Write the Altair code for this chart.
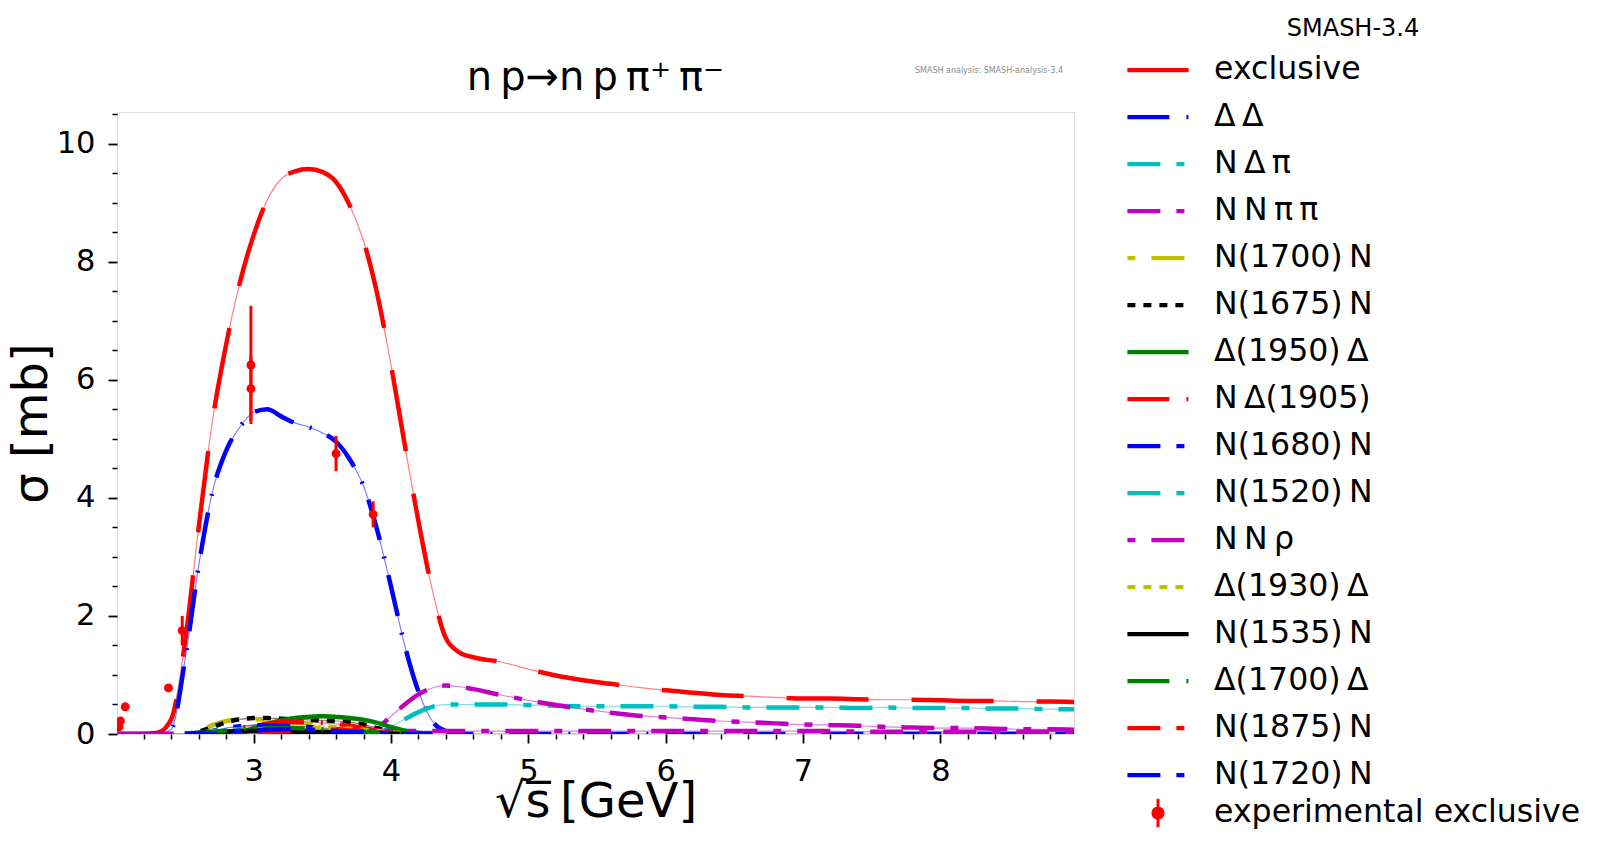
import altair as alt
import pandas as pd

F = "DejaVu Sans"

# ---- main curves on a common sqrt(s) grid [GeV] ----
X = [2.0, 2.1, 2.2, 2.3, 2.4, 2.5, 2.6, 2.7, 2.8, 2.9, 3.0, 3.1, 3.2, 3.3, 3.4, 3.5, 3.6, 3.7, 3.8,
     3.9, 4.0, 4.1, 4.2, 4.3, 4.4, 4.5, 4.6, 4.8, 5.0, 5.2, 5.4, 5.6, 5.8, 6.0, 6.2, 6.4, 6.6, 6.8,
     7.0, 7.2, 7.4, 7.6, 7.8, 8.0, 8.2, 8.4, 8.6, 8.8, 9.0]

EXCLUSIVE = [0, 0, 0, 0.02, 0.25, 1.55, 3.5, 5.3, 6.6, 7.65, 8.45, 9.05, 9.4, 9.53, 9.57, 9.52, 9.35,
             8.95, 8.35, 7.45, 6.25, 4.9, 3.6, 2.45, 1.62, 1.38, 1.3,
             1.22, 1.1, 0.99, 0.91, 0.85, 0.79, 0.74, 0.7, 0.66, 0.64, 0.62, 0.6, 0.6, 0.59, 0.58,
             0.58, 0.57, 0.56, 0.56, 0.55, 0.55, 0.54]
DELTA_DELTA = [0, 0, 0, 0, 0.08, 1.25, 2.85, 4.1, 4.8, 5.2, 5.45, 5.5, 5.38, 5.27, 5.2, 5.1, 4.95,
               4.65, 4.2, 3.45, 2.5, 1.5, 0.72, 0.22, 0.05, 0.01, 0,
               0, 0, 0, 0, 0, 0, 0, 0, 0, 0, 0, 0, 0, 0, 0, 0, 0, 0, 0, 0, 0, 0]
N_DELTA_PI = [0, 0, 0, 0, 0, 0, 0, 0, 0, 0, 0, 0, 0, 0, 0, 0, 0, 0, 0, 0,
              0.12, 0.25, 0.37, 0.46, 0.5, 0.5, 0.5,
              0.5, 0.49, 0.48, 0.47, 0.47, 0.47, 0.47, 0.46, 0.46, 0.45, 0.45, 0.45, 0.45, 0.44,
              0.45, 0.44, 0.44, 0.44, 0.43, 0.43, 0.42, 0.42]
NN_PIPI = [0, 0, 0, 0, 0, 0, 0, 0, 0, 0, 0, 0, 0, 0, 0, 0, 0, 0, 0,
           0.1, 0.3, 0.5, 0.67, 0.78, 0.82, 0.8, 0.76,
           0.66, 0.57, 0.49, 0.42, 0.36, 0.31, 0.28, 0.25, 0.22, 0.2, 0.18, 0.16, 0.15, 0.14,
           0.12, 0.11, 0.1, 0.1, 0.09, 0.08, 0.08, 0.07]
NN_RHO = [0, 0, 0, 0, 0, 0, 0, 0.01, 0.02, 0.03, 0.04, 0.05, 0.05, 0.05, 0.05, 0.05, 0.05, 0.05,
          0.05, 0.05, 0.05, 0.05, 0.05, 0.05, 0.05, 0.05, 0.05,
          0.05, 0.05, 0.05, 0.05, 0.05, 0.05, 0.05, 0.05, 0.05, 0.05, 0.05, 0.05, 0.05, 0.04,
          0.04, 0.04, 0.04, 0.04, 0.04, 0.04, 0.04, 0.04]

# ---- small resonance channels on the low-energy grid ----
X_LOW = [2.5, 2.6, 2.7, 2.8, 2.9, 3.0, 3.1, 3.2, 3.3, 3.4, 3.5, 3.6, 3.7, 3.8, 3.9, 4.0, 4.1, 4.2, 4.3]
N1700 = [0, 0.05, 0.15, 0.22, 0.25, 0.25, 0.24, 0.22, 0.2, 0.17, 0.14, 0.11, 0.08, 0.05, 0.03, 0.01, 0, 0, 0]
N1675 = [0, 0.04, 0.12, 0.2, 0.25, 0.27, 0.27, 0.26, 0.25, 0.24, 0.23, 0.22, 0.2, 0.16, 0.1, 0.05, 0.02, 0, 0]
D1950 = [0, 0, 0, 0, 0.03, 0.1, 0.17, 0.23, 0.27, 0.29, 0.3, 0.29, 0.27, 0.24, 0.19, 0.12, 0.06, 0.02, 0]
ND1905 = [0, 0, 0, 0.05, 0.1, 0.15, 0.18, 0.2, 0.2, 0.2, 0.19, 0.17, 0.14, 0.1, 0.06, 0.03, 0.01, 0, 0]
N1680 = [0, 0, 0.05, 0.1, 0.13, 0.15, 0.15, 0.14, 0.13, 0.12, 0.1, 0.08, 0.06, 0.04, 0.02, 0.01, 0, 0, 0]
N1520 = [0, 0.02, 0.05, 0.07, 0.08, 0.08, 0.08, 0.07, 0.07, 0.06, 0.05, 0.04, 0.03, 0.02, 0.01, 0, 0, 0, 0]
D1930 = [0, 0, 0, 0, 0, 0.03, 0.05, 0.08, 0.09, 0.1, 0.1, 0.1, 0.09, 0.07, 0.05, 0.03, 0.01, 0, 0]
N1535 = [0, 0.02, 0.03, 0.04, 0.05, 0.05, 0.05, 0.05, 0.04, 0.04, 0.03, 0.03, 0.02, 0.02, 0.01, 0.01, 0, 0, 0]
D1700 = [0, 0, 0.03, 0.06, 0.08, 0.09, 0.1, 0.1, 0.1, 0.09, 0.08, 0.07, 0.05, 0.04, 0.03, 0.02, 0.01, 0, 0]
N1875 = [0, 0, 0, 0, 0, 0.02, 0.03, 0.05, 0.06, 0.07, 0.07, 0.07, 0.06, 0.05, 0.03, 0.02, 0.01, 0, 0]
N1720 = [0, 0, 0, 0.03, 0.05, 0.06, 0.07, 0.08, 0.08, 0.07, 0.06, 0.05, 0.04, 0.03, 0.02, 0.01, 0, 0, 0]

# ---- experimental exclusive cross section ----
EXP_X = [2.02, 2.03, 2.065, 2.38, 2.48, 2.98, 2.98, 3.60, 3.87]
EXP_Y = [0.12, 0.22, 0.46, 0.78, 1.75, 6.25, 5.85, 4.75, 3.72]
EXP_ERR = [0.04, 0.03, 0.03, 0.04, 0.25, 1.0, 0.55, 0.3, 0.22]

TS = "\u2009"
LABELS = ["exclusive", f"Δ{TS}Δ", f"N{TS}Δ{TS}π", f"N{TS}N{TS}π{TS}π", f"N(1700){TS}N",
          f"N(1675){TS}N", f"Δ(1950){TS}Δ", f"N{TS}Δ(1905)", f"N(1680){TS}N", f"N(1520){TS}N",
          f"N{TS}N{TS}ρ", f"Δ(1930){TS}Δ", f"N(1535){TS}N", f"Δ(1700){TS}Δ", f"N(1875){TS}N",
          f"N(1720){TS}N"]
COLORS = ["#ff0000", "#0000ff", "#00bfbf", "#bf00bf", "#bfbf00", "#000000", "#008000", "#ff0000",
          "#0000ff", "#00bfbf", "#bf00bf", "#bfbf00", "#000000", "#008000", "#ff0000", "#0000ff"]
DASH_LD = [33, 16, 8, 16]
DASH_DOT = [42, 17, 2, 17]
DASH_SL = [8, 16, 33, 16]
DASHES = [[82, 43], DASH_DOT, DASH_LD, DASH_LD, DASH_SL, [8, 8], [1, 0], DASH_DOT, DASH_LD,
          DASH_LD, DASH_SL, [8, 8], [1, 0], DASH_DOT, DASH_LD, DASH_LD]

X_TICKS = [3, 4, 5, 6, 7, 8]
X_MINOR = [2.2, 2.4, 2.6, 2.8, 3.2, 3.4, 3.6, 3.8, 4.2, 4.4, 4.6, 4.8, 5.2, 5.4, 5.6, 5.8,
           6.2, 6.4, 6.6, 6.8, 7.2, 7.4, 7.6, 7.8, 8.2, 8.4, 8.6, 8.8]
Y_TICKS = [0, 2, 4, 6, 8, 10]
Y_MINOR = [0.5, 1, 1.5, 2.5, 3, 3.5, 4.5, 5, 5.5, 6.5, 7, 7.5, 8.5, 9, 9.5, 10.5]

series_data = [
    (0, X, EXCLUSIVE), (1, X, DELTA_DELTA), (2, X, N_DELTA_PI), (3, X, NN_PIPI),
    (4, X_LOW, N1700), (5, X_LOW, N1675), (6, X_LOW, D1950), (7, X_LOW, ND1905),
    (8, X_LOW, N1680), (9, X_LOW, N1520), (10, X, NN_RHO), (11, X_LOW, D1930),
    (12, X_LOW, N1535), (13, X_LOW, D1700), (14, X_LOW, N1875), (15, X_LOW, N1720),
]
rows = []
for k, xs, ys in series_data:
    for xv, yv in zip(xs, ys):
        rows.append({"series": LABELS[k], "col": COLORS[k], "x": xv, "y": yv})
df = pd.DataFrame(rows)

df_exp = pd.DataFrame({
    "x": EXP_X, "y": EXP_Y,
    "lo": [a - b for a, b in zip(EXP_Y, EXP_ERR)],
    "hi": [a + b for a, b in zip(EXP_Y, EXP_ERR)],
    "kind": ["experimental exclusive"] * len(EXP_X),
})

xscale = alt.Scale(domain=[2.005, 8.973], nice=False, zero=False)
yscale = alt.Scale(domain=[0, 10.535], nice=False, zero=False)
color_scale = alt.Scale(domain=LABELS, range=COLORS)
dash_scale = alt.Scale(domain=LABELS, range=DASHES)

leg1 = alt.Legend(orient="none", legendX=1008, legendY=-65, title=None, padding=0,
                  labelFont=F, labelFontSize=31.6, labelColor="black", labelLimit=600,
                  labelOffset=23, symbolSize=3745, symbolStrokeWidth=4.3,
                  symbolType="M-1,0L1,0", clipHeight=46.4, rowPadding=0)
ERR_SYMBOL = "M0,-1L0,1M-0.36,0A0.36,0.36,0,1,0,0.36,0A0.36,0.36,0,1,0,-0.36,0Z"
leg2 = alt.Legend(orient="none", legendX=1025, legendY=685, title=None, padding=0,
                  labelFont=F, labelFontSize=31.6, labelColor="black", labelLimit=600,
                  labelOffset=40, symbolType=ERR_SYMBOL, symbolSize=800,
                  symbolStrokeColor="#ff0000", symbolFillColor="#ff0000", symbolStrokeWidth=3)

x_axis = alt.Axis(values=X_TICKS, format="d", title="\u221as\u0305\u2009[GeV]", orient="bottom",
                  domain=False, grid=False, tickSize=9, tickWidth=1.8, tickColor="black",
                  labelFont=F, labelFontSize=30.5, labelColor="black", labelPadding=13,
                  labelFlush=False, titleFont=F, titleFontSize=48, titleFontWeight="normal",
                  titleColor="black", titleY=44, titleBaseline="top")
y_axis = alt.Axis(values=Y_TICKS, format="d", title="σ [mb]", orient="left",
                  domain=False, grid=False, tickSize=9, tickWidth=1.8, tickColor="black",
                  labelFont=F, labelFontSize=30.5, labelColor="black", labelPadding=13,
                  labelFlush=False, titleFont=F, titleFontSize=48, titleFontWeight="normal",
                  titleColor="black", titlePadding=0)

base = alt.Chart(df)
thin = base.mark_line(strokeWidth=1.2, opacity=0.5, clip=True, interpolate="monotone").encode(
    x=alt.X("x:Q", scale=xscale, axis=None),
    y=alt.Y("y:Q", scale=yscale, axis=None),
    stroke=alt.Stroke("col:N", scale=None),
    detail="series:N",
)
thick = base.mark_line(strokeWidth=4.5, clip=True, interpolate="monotone").encode(
    x=alt.X("x:Q", scale=xscale, axis=x_axis),
    y=alt.Y("y:Q", scale=yscale, axis=y_axis),
    color=alt.Color("series:N", scale=color_scale, legend=leg1),
    strokeDash=alt.StrokeDash("series:N", scale=dash_scale, legend=leg1),
)
bars = alt.Chart(df_exp).mark_rule(color="#ff0000", strokeWidth=3, clip=True).encode(
    x=alt.X("x:Q", scale=xscale, axis=None),
    y=alt.Y("lo:Q", scale=yscale, axis=None),
    y2="hi:Q",
)
pts = alt.Chart(df_exp).mark_circle(size=80, opacity=1, clip=True).encode(
    x=alt.X("x:Q", scale=xscale, axis=None),
    y=alt.Y("y:Q", scale=yscale, axis=None),
    fill=alt.Fill("kind:N", scale=alt.Scale(domain=["experimental exclusive"], range=["#ff0000"]),
                  legend=leg2),
)
minor = alt.Chart(df_exp).mark_point(opacity=0).encode(
    x=alt.X("x:Q", scale=xscale,
            axis=alt.Axis(values=X_MINOR, labels=False, domain=False, grid=False, tickSize=5,
                          tickWidth=1.5, tickColor="black", title="", orient="bottom")),
    y=alt.Y("y:Q", scale=yscale,
            axis=alt.Axis(values=Y_MINOR, labels=False, domain=False, grid=False, tickSize=5,
                          tickWidth=1.5, tickColor="black", title="", orient="left")),
)
txt_title = alt.Chart(pd.DataFrame({"t": ["n\u2009p\u2192n\u2009p\u2009π\u207a\u2009π\u207b"]})).mark_text(
    font=F, fontSize=40, color="black", align="center", baseline="alphabetic").encode(
    x=alt.value(478.5), y=alt.value(-22.4), text="t:N")
txt_legend_title = alt.Chart(pd.DataFrame({"t": ["SMASH-3.4"]})).mark_text(
    font=F, fontSize=24, color="black", align="center", baseline="middle").encode(
    x=alt.value(1236), y=alt.value(-83.4), text="t:N")
txt_version = alt.Chart(pd.DataFrame({"t": ["SMASH analysis: SMASH-analysis-3.4"]})).mark_text(
    font=F, fontSize=8, color="#8a8a8a", align="center", baseline="middle").encode(
    x=alt.value(872), y=alt.value(-40.6), text="t:N")

chart = alt.layer(thin, thick, bars, pts, minor, txt_title, txt_legend_title, txt_version).resolve_axis(
    x="independent", y="independent"
).properties(
    width=957, height=622,
    autosize=alt.AutoSizeParams(type="none"),
    padding={"left": 109, "top": 104, "right": 518, "bottom": 119},
).configure_view(stroke="black", strokeWidth=1.6).configure(background="white")

chart.save("out.html", embed_options={"renderer": "svg", "actions": False})
